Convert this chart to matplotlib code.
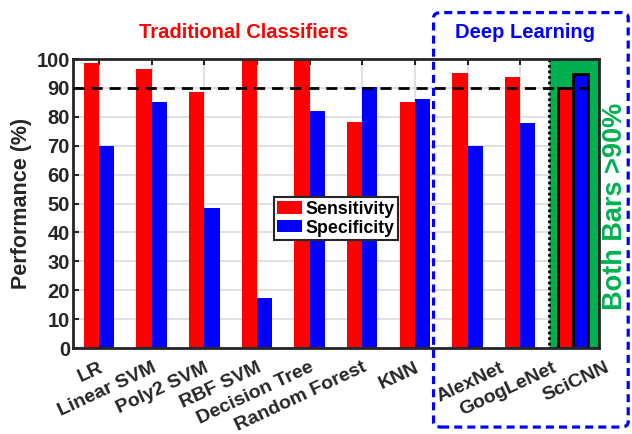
import numpy as np
import matplotlib
matplotlib.use('Agg')
import matplotlib.pyplot as plt
from matplotlib.patches import Rectangle, FancyBboxPatch
from matplotlib.transforms import ScaledTranslation

plt.rcParams['font.family'] = ['Liberation Sans', 'DejaVu Sans']
plt.rcParams['font.weight'] = 'bold'

models = ['LR', 'Linear SVM', 'Poly2 SVM', 'RBF SVM', 'Decision Tree',
          'Random Forest', 'KNN', 'AlexNet', 'GoogLeNet', 'SciCNN']
sensitivity = [98.7, 96.5, 88.6, 100, 100, 78.1, 85.2, 95.3, 93.8, 90.1]
specificity = [70.0, 85.2, 48.5, 17.2, 82.0, 90.2, 86.0, 69.9, 77.9, 94.9]
threshold = 90

red = '#ff0000'
blue = '#0000ff'
green = '#00b050'
dark = '#262626'

fig = plt.figure(figsize=(6.32, 4.34), dpi=100)
ax = fig.add_axes([0.115, 0.198, 0.833, 0.666])

x = np.arange(1, len(models) + 1)
w = 0.29

# green highlight for the last model
ax.add_patch(Rectangle((9.55, 0), 0.95, 100, facecolor=green, edgecolor='black',
                       linestyle=(0, (1, 1)), linewidth=2, zorder=1.5))

ax.bar(x[:-1] - w / 2, sensitivity[:-1], w, color=red, zorder=2, label='Sensitivity')
ax.bar(x[:-1] + w / 2, specificity[:-1], w, color=blue, zorder=2, label='Specificity')
ax.bar(x[-1] - w / 2, sensitivity[-1], w, color=red, edgecolor='black', linewidth=2, zorder=2)
ax.bar(x[-1] + w / 2, specificity[-1], w, color=blue, edgecolor='black', linewidth=2, zorder=2)

ax.hlines(threshold, 0.5, 10.3, colors='black', linestyles=(0, (4, 2.5)), linewidth=2, zorder=3)

ax.set_xlim(0.5, 10.5)
ax.set_ylim(0, 100)
ax.set_yticks(np.arange(0, 101, 10))
ax.set_xticks(x)
ax.set_xticklabels(models, rotation=25, ha='right', rotation_mode='anchor',
                   fontsize=14, fontweight='bold', color=dark)
ax.tick_params(axis='y', labelsize=14.5, colors=dark, pad=2)
ax.tick_params(direction='in', top=True, right=True, length=4, width=1.5, color=dark)
ax.tick_params(axis='x', pad=8)
ax.grid(True, color='#dcdcdc', linewidth=1.2, zorder=0)
ax.set_axisbelow(True)
for s in ax.spines.values():
    s.set_linewidth(2)
    s.set_color(dark)
ax.set_ylabel('Performance (%)', fontsize=15.5, fontweight='bold', color=dark, labelpad=3)

# deep learning labels sit further right in the original
for lbl in ax.get_xticklabels()[7:]:
    lbl.set_transform(lbl.get_transform() + ScaledTranslation(0.32, 0, fig.dpi_scale_trans))

leg = ax.legend(loc='upper left', bbox_to_anchor=(0.382, 0.522), borderaxespad=0,
                fancybox=False, framealpha=1, edgecolor=dark, fontsize=12.8,
                handlelength=1.4, handleheight=0.67, handletextpad=0.2,
                labelspacing=0.1, borderpad=0.2)
leg.get_frame().set_linewidth(1.5)
for t in leg.get_texts():
    t.set_fontweight('bold')

fig.text(0.386, 0.926, 'Traditional Classifiers', color=red, fontsize=14.5,
         fontweight='bold', ha='center', va='center')
fig.text(0.831, 0.926, 'Deep Learning', color=blue, fontsize=14.5,
         fontweight='bold', ha='center', va='center')
fig.text(0.973, 0.525, 'Both Bars >90%', color=green, fontsize=19.5,
         fontweight='bold', ha='center', va='center', rotation=90)

fig.patches.append(FancyBboxPatch((0.686, 0.016), 0.308, 0.955,
                                  boxstyle='round,pad=0,rounding_size=0.012',
                                  transform=fig.transFigure, fill=False,
                                  edgecolor=blue, linewidth=2.3,
                                  linestyle=(0, (2.5, 1.6)), zorder=5))

fig.savefig('out.png', dpi=100)
